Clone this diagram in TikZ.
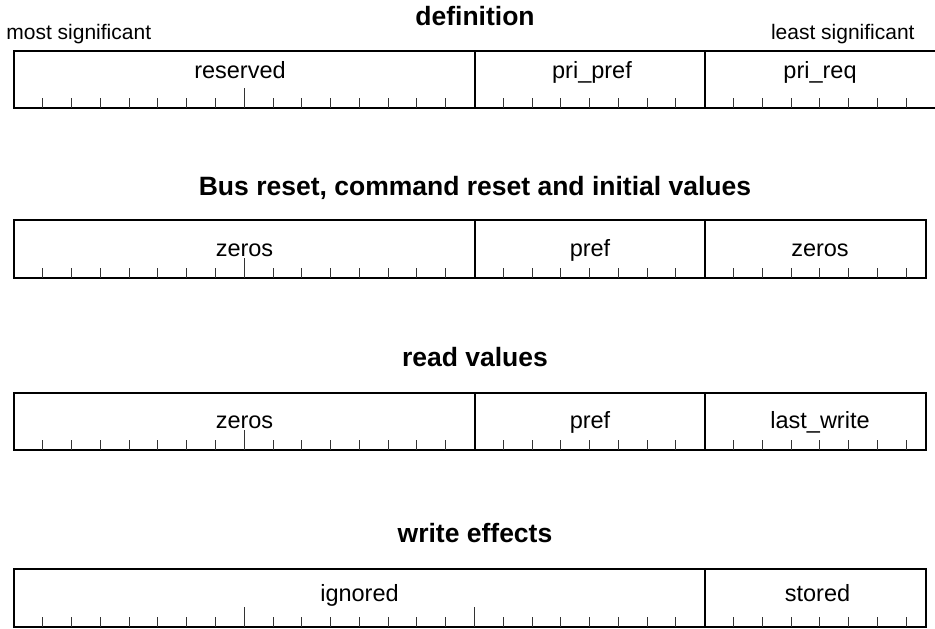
\documentclass[tikz,border=0pt]{standalone}
\usepackage{fontspec}
\setmainfont{Liberation Sans}
\tikzset{
	regframe/.style={draw=black, line width=1pt},
	divider/.style={draw=black, line width=1pt},
	bittick/.style={draw=black!80, line width=0.5pt},
	regtitle/.style={font=\fontsize{13.25}{15}\selectfont\bfseries, anchor=base, inner sep=0pt},
	fieldname/.style={font=\fontsize{11.75}{14}\selectfont, anchor=base, inner sep=0pt},
	endname/.style={font=\fontsize{10.5}{12}\selectfont, inner sep=0pt},
}

\begin{document}
\begin{tikzpicture}[x=0.5pt, y=-0.5pt]
	\useasboundingbox (0,0) rectangle (935,628);

	% titles
	\node [regtitle] (deftitle) at (475,25) {definition};
	\node [regtitle] (resettitle) at (475,195) {Bus reset, command reset and initial values};
	\node [regtitle] (readtitle) at (475,366.7) {read values};
	\node [regtitle] (writetitle) at (475,542.7) {write effects};

	\node [endname, anchor=base west] (msb) at (6,39) {most significant};
	\node [endname, anchor=base east] (lsb) at (915,39) {least significant};

	% frames
	\draw [regframe] (14,50.7) rectangle (945,108.2);
	\draw [regframe] (14,220) rectangle (926,277.5);
	\draw [regframe] (14,392.7) rectangle (926,450.2);
	\draw [regframe] (14,569.3) rectangle (926,626.8);

	% bit ticks, long every 8 bits
	\foreach \bot in {108.2, 277.5, 450.2, 626.8}{
		\foreach \k in {1,...,31}{
			\pgfmathsetmacro\ticklen{mod(\k,8)==0 ? 20 : 10}
			\draw [bittick] (14+28.78*\k,\bot) -- ++(0,-\ticklen);
		}
	}

	% field borders
	\foreach \top/\bot in {50.7/108.2, 220/277.5, 392.7/450.2}{
		\draw [divider] (474.5,\top) -- (474.5,\bot);
		\draw [divider] (705,\top) -- (705,\bot);
	}
	\draw [divider] (705,569.3) -- (705,626.8);

	% field names
	\node [fieldname] (reserved) at (240,78.3) {reserved};
	\node [fieldname] (pripref) at (592,78.3) {pri\_pref};
	\node [fieldname] (prireq) at (820,78.3) {pri\_req};

	\node [fieldname] (resetzerosA) at (244.5,256) {zeros};
	\node [fieldname] (resetpref) at (590,256) {pref};
	\node [fieldname] (resetzerosB) at (820,256) {zeros};

	\node [fieldname] (readzeros) at (244.5,428.7) {zeros};
	\node [fieldname] (readpref) at (590,428.7) {pref};
	\node [fieldname] (lastwrite) at (820,428.7) {last\_write};

	\node [fieldname] (ignored) at (359.5,601) {ignored};
	\node [fieldname] (stored) at (817.5,601) {stored};
\end{tikzpicture}
\end{document}
